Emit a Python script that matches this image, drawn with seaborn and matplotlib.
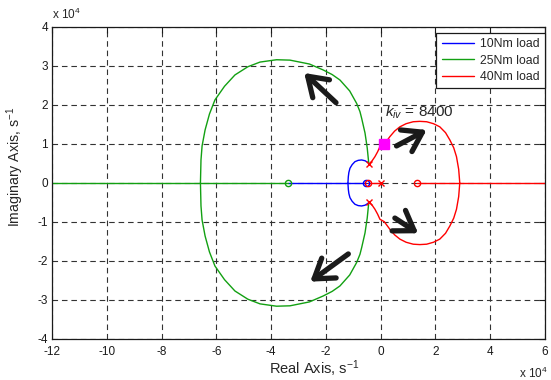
import numpy as np
import pandas as pd
import matplotlib
matplotlib.use("Agg")
import matplotlib.pyplot as plt
import seaborn as sns

# ---- root-locus branches (s^-1), upper half; lower half is the mirror image ----
blue_upper_x = [-4300, -4530, -5700, -6940, -8200, -9380, -10400, -11200, -11600, -11800, -11940]
blue_upper_y = [4800, 5200, 5700, 5900, 5800, 5460, 4700, 3770, 2700, 1600, 0]

green_upper_x = [-4300, -4900, -5700, -6900, -7550, -8760, -11300, -14850, -17700, -20950,
                 -26000, -33100, -38000, -44050, -48500, -53200, -57000, -60500, -62500,
                 -64100, -65200, -65600, -65800]
green_upper_y = [4800, 9000, 12800, 16500, 18300, 20400, 23600, 26400, 27800, 28970,
                 30500, 31500, 31600, 31000, 29800, 27700, 24800, 21300, 17700,
                 13600, 9500, 5900, 0]

red_upper_x = [-4300, -3100, -2080, -1100, -260, 1310, 3400, 5100, 7040, 9300, 11900, 14300,
               16800, 19300, 21600, 23700, 25300, 26700, 27700, 28500, 28900]
red_upper_y = [4800, 5700, 6740, 8000, 9300, 9920, 11900, 13300, 14400, 15200, 15700, 15800,
               15700, 15200, 14400, 12900, 11000, 9000, 6740, 3500, 0]

# real-axis segments
blue_axis = [-33800, -5500]
green_axis = [-120000, -33800]
red_axis_a = [-4600, 0]
red_axis_b = [13100, 60000]

# open-loop poles and zeros
pole_x, pole_y = [-4300, -4300], [4800, -4800]
red_origin_pole = [0]
green_zeros = [-33800]
blue_zeros = [-5500]
red_zeros = [-4600, 13100]

# operating point on the 40Nm branch
kiv_point = (1310, 9920)
kiv_label = "8400"

# direction arrows (tail -> head)
arrow_tails = [(-16300, 20600), (-11800, -18200), (5800, 9500), (5200, -9000)]
arrow_heads = [(-27900, 28200), (-25700, -25300), (16800, 13600), (13700, -12900)]

loads = ["10Nm load", "25Nm load", "40Nm load"]
colors = ["#0000ff", "#12a012", "#ff0000"]

SCALE = 1e4

rows = []
def add(load, seg, xs, ys):
    for x, y in zip(xs, ys):
        rows.append({"load": load, "seg": seg, "x": x / SCALE, "y": y / SCALE})

for load, ux, uy, axes_segs in [
    (loads[0], blue_upper_x, blue_upper_y, [blue_axis]),
    (loads[1], green_upper_x, green_upper_y, [green_axis]),
    (loads[2], red_upper_x, red_upper_y, [red_axis_a, red_axis_b]),
]:
    add(load, load + "-up", ux, uy)
    add(load, load + "-lo", ux, [-v for v in uy])
    for i, s in enumerate(axes_segs):
        add(load, f"{load}-ax{i}", s, [0, 0])

df = pd.DataFrame(rows)

sns.set_theme(style="white")
plt.rcParams["font.family"] = ["Liberation Sans", "DejaVu Sans"]
plt.rcParams["mathtext.fontset"] = "custom"
plt.rcParams["mathtext.rm"] = "Liberation Sans"
plt.rcParams["mathtext.it"] = "Liberation Sans:italic"
plt.rcParams["axes.unicode_minus"] = False

fig = plt.figure(figsize=(5.51, 3.80), dpi=100)
ax = fig.add_axes([0.0944, 0.108, 0.8946, 0.821])

sns.lineplot(data=df, x="x", y="y", hue="load", units="seg", estimator=None, sort=False,
             palette=dict(zip(loads, colors)), hue_order=loads, linewidth=1.0, ax=ax)

# zeros (open circles)
ms = 4.5
ax.plot(np.array(green_zeros) / SCALE, [0] * len(green_zeros), "o", mfc="none", mec=colors[1], ms=ms, mew=1)
ax.plot(np.array(blue_zeros) / SCALE, [0] * len(blue_zeros), "o", mfc="none", mec=colors[0], ms=ms, mew=1)
ax.plot(np.array(red_zeros) / SCALE, [0] * len(red_zeros), "o", mfc="none", mec=colors[2], ms=ms, mew=1)
# poles
ax.plot(np.array(pole_x) / SCALE, np.array(pole_y) / SCALE, "x", color=colors[2], ms=4, mew=1)
ax.plot(np.array(red_origin_pole) / SCALE, [0], "x", color=colors[2], ms=4, mew=1)

# operating point
ax.plot(kiv_point[0] / SCALE, kiv_point[1] / SCALE, "s", color="#ff00ff", ms=7, mec="#ff00ff")
ax.text(0.16, 1.70, r"$k_{iv}$ = " + kiv_label, fontsize=11, ha="left", va="baseline")

for (tx, ty), (hx, hy) in zip(arrow_tails, arrow_heads):
    ax.annotate("", xy=(hx / SCALE, hy / SCALE), xytext=(tx / SCALE, ty / SCALE),
                arrowprops=dict(arrowstyle="->,head_length=0.6,head_width=0.4",
                                lw=3.8, color="k", shrinkA=0, shrinkB=0,
                                mutation_scale=22))

ax.set_xlim(-12, 6)
ax.set_ylim(-4, 4)
ax.set_xticks(np.arange(-12, 7, 2))
ax.set_yticks(np.arange(-4, 5, 1))
ax.tick_params(direction="in", length=4, width=0.8, top=True, right=True,
               labelsize=8.5, colors="k", pad=3)
ax.tick_params(axis="x", pad=5)
for sp in ax.spines.values():
    sp.set_color("k")
    sp.set_linewidth(0.9)
ax.grid(True, color="0.2", linestyle=(0, (5, 3.5)), linewidth=0.8)

ax.set_xlabel(r"Real Axis, s$^{\mathregular{-1}}$", fontsize=10.5)
ax.set_ylabel(r"Imaginary Axis, s$^{\mathregular{-1}}$", fontsize=10.2)
ax.xaxis.set_label_coords(0.531, -0.112, transform=ax.transAxes)
ax.xaxis.label.set_va("baseline")
ax.yaxis.set_label_coords(-0.052, 0.551, transform=ax.transAxes)
ax.yaxis.label.set_va("bottom")

ax.text(0.0, 1.015, r"x 10$^{\mathregular{4}}$", transform=ax.transAxes, fontsize=8.5,
        ha="left", va="bottom")
ax.text(1.005, -0.085, r"x 10$^{\mathregular{4}}$", transform=ax.transAxes, fontsize=8.5,
        ha="right", va="top")

leg = ax.legend(loc="upper right", bbox_to_anchor=(1.0, 0.981), fontsize=8.8, frameon=True,
                fancybox=False, edgecolor="k", framealpha=1, handlelength=2.6,
                borderpad=0.45, labelspacing=0.35, handletextpad=0.5, borderaxespad=0.0)
leg.get_frame().set_linewidth(0.9)
for line in leg.get_lines():
    line.set_linewidth(1.0)

fig.savefig("out.png", dpi=100)
